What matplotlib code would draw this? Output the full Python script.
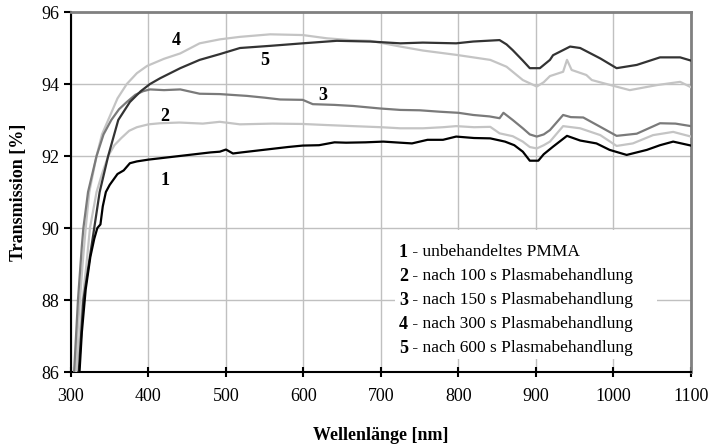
import matplotlib.pyplot as plt
from matplotlib.patches import Rectangle

# ----------------------------
# DATA
# ----------------------------
w1 = [311, 314, 319, 325, 330, 334, 338, 341, 345, 350, 360, 368, 376, 385, 400, 420, 440,
      460, 480, 492, 500, 509, 520, 540, 560, 580, 599, 620, 640, 655, 680, 703, 725, 740,
      760, 780, 797, 820, 841, 860, 872, 883, 892, 903, 910, 922, 940, 957, 978, 995, 1017,
      1043, 1060, 1077, 1100]
t1 = [86.0, 87.1, 88.3, 89.2, 89.7, 90.0, 90.1, 90.6, 91.0, 91.2, 91.5, 91.6, 91.8, 91.85,
      91.9, 91.95, 92.0, 92.05, 92.1, 92.12, 92.18, 92.07, 92.1, 92.15, 92.2, 92.25, 92.29,
      92.3, 92.38, 92.37, 92.38, 92.4, 92.37, 92.35, 92.45, 92.45, 92.54, 92.5, 92.49, 92.4,
      92.3, 92.12, 91.87, 91.87, 92.05, 92.26, 92.56, 92.43, 92.35, 92.17, 92.03, 92.17,
      92.3, 92.4, 92.29]

w2 = [307, 311, 315, 320, 324.5, 333, 340, 348, 356, 365, 375, 385, 400, 415, 440, 470, 492,
      518, 560, 599, 630, 664, 700, 725, 754, 780, 797, 820, 841, 853, 870, 883, 892, 901,
      910, 918, 935, 957, 983, 1004, 1025, 1051, 1077, 1100]
t2 = [86.0, 87.0, 88.0, 89.0, 90.0, 91.0, 91.5, 92.0, 92.3, 92.5, 92.7, 92.8, 92.88, 92.91,
      92.93, 92.9, 92.95, 92.88, 92.9, 92.89, 92.86, 92.83, 92.8, 92.77, 92.77, 92.8, 92.83,
      92.8, 92.81, 92.63, 92.55, 92.4, 92.25, 92.21, 92.3, 92.4, 92.83, 92.77, 92.58, 92.28,
      92.35, 92.58, 92.67, 92.54]

w3 = [304, 309, 314, 316, 322, 333, 342, 352, 362, 372, 383, 393, 402, 420, 441, 466, 492,
      527, 550, 570, 599, 612, 640, 664, 699, 725, 750, 776, 800, 819, 840, 853, 858, 870,
      883, 892, 901, 910, 918, 935, 945, 961, 983, 1004, 1030, 1060, 1080, 1100]
t3 = [86.0, 88.0, 89.5, 90.0, 91.0, 92.0, 92.6, 93.0, 93.3, 93.5, 93.7, 93.8, 93.85, 93.83,
      93.85, 93.73, 93.72, 93.67, 93.62, 93.57, 93.56, 93.44, 93.42, 93.39, 93.32, 93.28,
      93.27, 93.23, 93.2, 93.14, 93.1, 93.05, 93.2, 93.0, 92.77, 92.6, 92.54, 92.6, 92.72,
      93.14, 93.08, 93.07, 92.81, 92.56, 92.62, 92.91, 92.9, 92.83]

w4 = [305.6, 308, 311.6, 315, 319, 323.6, 333, 340, 348, 360, 372, 385, 398, 420, 441, 466,
      492, 518, 557, 599, 630, 660, 686, 725, 754, 797, 841, 862, 883, 901, 910, 918, 935,
      940, 946, 965, 972, 991, 1021, 1056, 1086, 1100]
t4 = [86.0, 87.0, 88.0, 89.0, 90.0, 91.0, 92.0, 92.6, 93.0, 93.6, 94.0, 94.3, 94.5, 94.7,
      94.85, 95.13, 95.24, 95.31, 95.38, 95.36, 95.27, 95.22, 95.2, 95.04, 94.93, 94.81,
      94.67, 94.48, 94.11, 93.93, 94.05, 94.22, 94.34, 94.67, 94.39, 94.25, 94.11, 94.0,
      93.83, 93.97, 94.06, 93.91]

w5 = [310, 316, 323, 330, 337, 348, 361, 376, 390, 402, 415, 441, 466, 492, 518, 557, 599,
      643, 686, 725, 754, 797, 819, 853, 862, 870, 883, 892, 905, 918, 922, 944, 957, 983,
      1004, 1030, 1060, 1086, 1100]
t5 = [86.0, 88.0, 89.0, 90.0, 91.0, 92.0, 93.0, 93.5, 93.8, 94.0, 94.16, 94.44, 94.67, 94.83,
      95.0, 95.06, 95.13, 95.2, 95.18, 95.13, 95.15, 95.13, 95.18, 95.22, 95.1, 94.94, 94.65,
      94.44, 94.44, 94.67, 94.8, 95.04, 95.0, 94.71, 94.44, 94.53, 94.74, 94.74, 94.65]

curve_ids = ["1", "2", "3", "4", "5"]
legend_texts = [" - unbehandeltes PMMA",
                " - nach 100 s Plasmabehandlung",
                " - nach 150 s Plasmabehandlung",
                " - nach 300 s Plasmabehandlung",
                " - nach 600 s Plasmabehandlung"]

# ----------------------------
# PLOT
# ----------------------------
plt.rcParams['font.family'] = 'Liberation Serif'

fig = plt.figure(figsize=(7.12, 4.48), dpi=100)
ax = fig.add_axes([0.0997, 0.1696, 0.8708, 0.8036])

ax.plot(w4, t4, color="#c4c4c4", lw=1.6, zorder=3)
ax.plot(w2, t2, color="#c4c4c4", lw=1.6, zorder=3)
ax.plot(w3, t3, color="#7a7a7a", lw=1.6, zorder=4)
ax.plot(w5, t5, color="#333333", lw=1.6, zorder=5)
ax.plot(w1, t1, color="#000000", lw=1.6, zorder=6)

ax.set_xlim(300, 1100)
ax.set_ylim(86, 96)
ax.set_xticks(range(300, 1101, 100))
ax.set_yticks(range(86, 97, 2))
ax.grid(True, color="#c0c0c0", lw=1)
ax.set_axisbelow(True)

for s in ["left", "bottom"]:
    ax.spines[s].set_color("black")
    ax.spines[s].set_linewidth(1.5)
for s in ["top", "right"]:
    ax.spines[s].set_color("#808080")
    ax.spines[s].set_linewidth(2)

ax.tick_params(axis="x", direction="inout", length=7, width=1.5, labelsize=13, pad=8)
ax.tick_params(axis="y", direction="out", length=5, width=1.5, labelsize=13)

ax.set_xlabel("Wellenlänge [nm]", fontsize=13, fontweight="bold", labelpad=16)
ax.set_ylabel("Transmission [%]", fontsize=13, fontweight="bold", labelpad=10)

# curve labels
ax.text(436, 95.22, "4", fontsize=13, fontweight="bold", ha="center", va="center", zorder=7)
ax.text(550, 94.64, "5", fontsize=13, fontweight="bold", ha="center", va="center", zorder=7)
ax.text(625, 93.67, "3", fontsize=13, fontweight="bold", ha="center", va="center", zorder=7)
ax.text(421, 93.11, "2", fontsize=13, fontweight="bold", ha="center", va="center", zorder=7)
ax.text(421, 91.33, "1", fontsize=13, fontweight="bold", ha="center", va="center", zorder=7)

# legend box
ax.add_patch(Rectangle((718, 86.35), 338, 3.6, facecolor="white", edgecolor="none", zorder=2))
for i, (cid, txt) in enumerate(zip(curve_ids, legend_texts)):
    y = 89.33 - i * 0.667
    t = ax.text(723, y, cid, fontsize=13, fontweight="bold", ha="left", va="center", zorder=7)
    ax.annotate(txt, xy=(1, 0.5), xycoords=t, fontsize=12.5, ha="left", va="center", zorder=7)

plt.savefig("out.png")
